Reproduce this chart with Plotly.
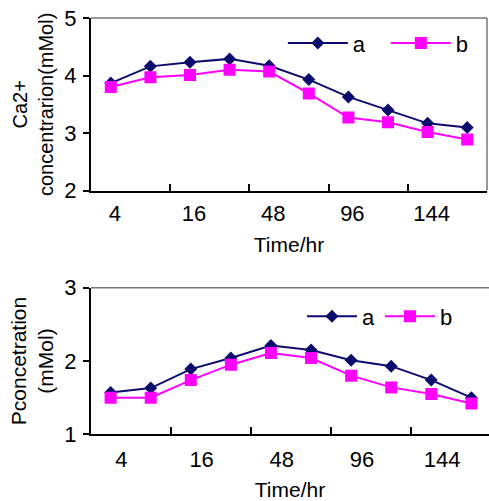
import plotly.graph_objects as go

time_labels = ["4", "", "16", "", "48", "", "96", "", "144", ""]
ca_a = [3.87, 4.16, 4.23, 4.29, 4.17, 3.93, 3.63, 3.40, 3.17, 3.10]
ca_b = [3.80, 3.97, 4.01, 4.10, 4.07, 3.69, 3.27, 3.19, 3.02, 2.89]
p_a = [1.57, 1.63, 1.89, 2.04, 2.21, 2.15, 2.01, 1.93, 1.74, 1.50]
p_b = [1.50, 1.50, 1.74, 1.95, 2.11, 2.04, 1.80, 1.64, 1.55, 1.42]
series_names = ["a", "b"]

NAVY = "#0c0c6e"
MAG = "#ff00ff"
FONT = "Liberation Sans, Arial, sans-serif"

idx = list(range(len(time_labels)))
fig = go.Figure()

def add(y, name, color, symbol, size, xa, ya, leg):
    fig.add_trace(go.Scatter(
        x=idx, y=y, name=name, mode="lines+markers",
        line=dict(color=color, width=2),
        marker=dict(symbol=symbol, size=size, color=color),
        xaxis=xa, yaxis=ya, legend=leg))

add(ca_a, series_names[0], NAVY, "diamond", 10, "x", "y", "legend")
add(ca_b, series_names[1], MAG, "square", 12, "x", "y", "legend")
add(p_a, series_names[0], NAVY, "diamond", 10, "x2", "y2", "legend2")
add(p_b, series_names[1], MAG, "square", 12, "x2", "y2", "legend2")

lab_idx = [i for i, t in enumerate(time_labels) if t]
lab_txt = [time_labels[i] for i in lab_idx]
minor_vals = [i + 1.5 for i in lab_idx[:-1]]

def xaxis(domain, rng, off, anchor, standoff):
    return dict(domain=domain, range=rng, anchor=anchor, automargin=False,
                tickmode="array", tickvals=[i + off for i in lab_idx], ticktext=lab_txt,
                ticks="", showgrid=False, zeroline=False,
                showline=True, linecolor="black", linewidth=2,
                tickfont=dict(size=22, color="black", family=FONT),
                ticklabelstandoff=standoff,
                minor=dict(tickmode="array", tickvals=minor_vals, ticks="inside",
                           ticklen=7, tickwidth=1.5, tickcolor="black", showgrid=False),
                title=dict(text="Time/hr", font=dict(size=21, color="black", family=FONT), standoff=12))

def yaxis(domain, rng, title, anchor, tsize, standoff):
    return dict(domain=domain, range=rng, anchor=anchor, dtick=1, automargin="left",
                ticks="outside", ticklen=6, tickwidth=1.5, tickcolor="black",
                showgrid=False, zeroline=False,
                showline=True, linecolor="black", linewidth=2,
                tickfont=dict(size=22, color="black", family=FONT),
                ticklabelstandoff=2,
                title=dict(text=title, font=dict(size=tsize, color="black", family=FONT), standoff=standoff))

fig.update_layout(
    width=489, height=501,
    margin=dict(l=91, r=0, t=18, b=0),
    paper_bgcolor="white", plot_bgcolor="white",
    font=dict(family=FONT, color="black"),
    xaxis=xaxis([0, 0.995], [-0.5, 9.5], 0.1, "y", 2),
    yaxis=yaxis([0.6424, 1.0], [2, 5], "Ca2+<br>concentrarion(mMol)", "x", 20, 5),
    xaxis2=xaxis([0, 1], [-0.49, 9.44], 0.27, "y2", 4),
    yaxis2=yaxis([0.1381, 0.4416], [1, 3], "Pconcetration<br>(mMol)", "x2", 21, 5),
    legend=dict(orientation="h", x=0.482, y=0.948, xanchor="left", yanchor="middle",
                font=dict(size=22, color="black", family=FONT), bgcolor="rgba(0,0,0,0)",
                itemwidth=60, entrywidth=28, traceorder="normal"),
    legend2=dict(orientation="h", x=0.53, y=0.382, xanchor="left", yanchor="middle",
                 font=dict(size=22, color="black", family=FONT), bgcolor="rgba(0,0,0,0)",
                 itemwidth=50, traceorder="normal"),
    showlegend=True,
    shapes=[
        dict(type="line", xref="x domain", yref="y domain", x0=0, x1=1, y0=1, y1=1,
             line=dict(color="#777777", width=1.5)),
        dict(type="line", xref="x domain", yref="y domain", x0=1, x1=1, y0=0, y1=1,
             line=dict(color="#777777", width=1.5)),
        dict(type="line", xref="x2 domain", yref="y2 domain", x0=0, x1=1, y0=1, y1=1,
             line=dict(color="#777777", width=1.5)),
    ],
)

fig.write_html("out.html", config={"displayModeBar": False},
               post_script="document.body.style.margin='0';document.body.style.overflow='hidden';")
